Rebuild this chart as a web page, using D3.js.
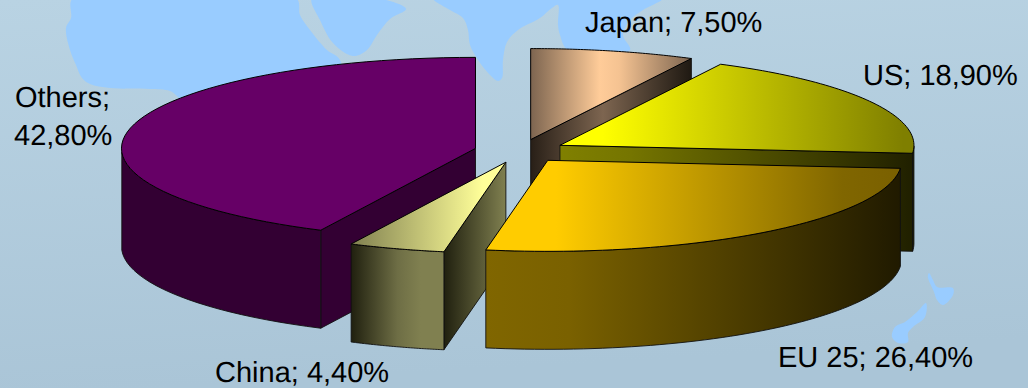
<!DOCTYPE html>
<html>
<head>
<meta charset="utf-8">
<style>
  html, body { margin: 0; padding: 0; background: #b0cbdc; }
  svg { display: block; }
  text { font-family: "Liberation Sans", Arial, sans-serif; font-size: 29px; fill: #000; text-rendering: geometricPrecision; }
</style>
<script src="https://cdn.jsdelivr.net/npm/d3@7"></script>
</head>
<body>
<svg id="chart" width="1028" height="388"></svg>
<script>
// Market shares, clockwise from twelve o'clock
const regions = ["Japan", "US", "EU 25", "China", "Others"];
const shares = [7.5, 18.9, 26.4, 4.4, 42.8];

// Tilted-disc geometry
const width = 1028, height = 388;
const centerX = 520, centerY = 151, radiusX = 354, radiusY = 91, depth = 98, explode = 0.129;
const paintOrder = ["Japan", "US", "Others", "China", "EU 25"];

// Gradient ramps along x for each slice: top, curved rim and cut face
const ramps = {
  "Japan": {
    top: [[0, "#7d6550"], [0.43, "#ffcc99"], [0.55, "#f5c392"], [1, "#7d6550"]],
    rim: [[0, "#2a2118"], [1, "#2a2118"]],
    face: [[0, "#281f17"], [0.45, "#7d6550"], [1, "#1f1912"]]
  },
  "US": {
    top: [[0, "#ffff00"], [0.12, "#ffff00"], [0.97, "#7f7f00"], [1, "#7f7f00"]],
    rim: [[0, "#202000"], [1, "#202000"]],
    face: [[0, "#808000"], [0.2, "#757500"], [1, "#202000"]]
  },
  "EU 25": {
    top: [[0, "#ffcc00"], [0.17, "#ffcc00"], [0.86, "#806600"], [1, "#7a6000"]],
    rim: [[0, "#806600"], [0.2, "#7a6100"], [1, "#201a00"]],
    face: [[0, "#806600"], [1, "#806600"]]
  },
  "China": {
    top: [[0, "#808050"], [0.85, "#ffff99"], [1, "#ffff99"]],
    rim: [[0, "#20200f"], [0.5, "#6e6e45"], [0.75, "#808050"], [1, "#808050"]],
    face: [[0, "#20200f"], [1, "#808050"]]
  },
  "Others": {
    top: [[0, "#660066"], [1, "#660066"]],
    rim: [[0, "#330033"], [1, "#330033"]],
    face: [[0, "#330033"], [1, "#330033"]]
  }
};

// Label placement, one entry per region
const labelAnchors = {
  "Japan": [[585, 32]],
  "US": [[863, 85]],
  "EU 25": [[778, 367]],
  "China": [[215, 382]],
  "Others": [[15, 107], [14, 145]]
};

const svg = d3.select("#chart");
const defs = svg.append("defs");

// Page backdrop
const bgGrad = defs.append("linearGradient").attr("id", "backdrop")
  .attr("x1", 0).attr("y1", 0).attr("x2", 0.15).attr("y2", 1);
bgGrad.append("stop").attr("offset", 0).attr("stop-color", "#b9d3e3");
bgGrad.append("stop").attr("offset", 1).attr("stop-color", "#aac5d7");
svg.append("rect").attr("width", width).attr("height", height).attr("fill", "url(#backdrop)");

// Land masses behind the pie
const land = [
  [[73,-2],[71,18],[66,28],[70,50],[76,65],[82,78],[90,84],[110,88],[150,89],[170,91],[184,100],[340,100],[340,60],[327,50],[310,30],[300,15],[296,-2]],
  [[312,-2],[320,20],[333,43],[353,56],[367,50],[377,35],[390,19],[406,9],[377,-2]],
  [[433,-2],[450,10],[463,18],[468,30],[470,45],[478,60],[490,75],[498,81],[502,78],[503,60],[507,42],[518,30],[540,18],[552,8],[558,5],[558,25],[560,35],[568,50],[630,50],[623,35],[630,20],[643,10],[663,-2]],
  [[928,275],[929,273],[933,280],[937,287],[953,288],[953,295],[943,305],[937,300],[934,292],[928,278]],
  [[926,303],[925,317],[913,327],[908,333],[908,342],[898,343],[892,337],[895,327],[905,322],[917,312]]
];
const landLine = d3.line().curve(d3.curveCatmullRomClosed.alpha(0.5));
svg.append("g").selectAll("path").data(land).join("path")
  .attr("d", landLine).attr("fill", "#99ccff");

// Scales from the unit disc to the page
const x = d3.scaleLinear().domain([-1, 1]).range([centerX - radiusX, centerX + radiusX]);
const y = d3.scaleLinear().domain([-1, 1]).range([centerY + radiusY, centerY - radiusY]);

const pie = d3.pie().sort(null).value(d => d.share);
const arcs = pie(regions.map((name, i) => ({ name, share: shares[i] })));

const polygon = pts => d3.line()(pts) + "Z";

function addRamp(id, stops, x0, x1) {
  const g = defs.append("linearGradient").attr("id", id)
    .attr("gradientUnits", "userSpaceOnUse")
    .attr("x1", x0).attr("y1", 0).attr("x2", x1).attr("y2", 0);
  stops.forEach(([o, c]) => g.append("stop").attr("offset", o).attr("stop-color", c));
  return `url(#${id})`;
}

const byName = new Map(arcs.map(a => [a.data.name, a]));
const pieGroup = svg.append("g").attr("stroke-linejoin", "round");

paintOrder.forEach((name, idx) => {
  const a = byName.get(name);
  const mid = (a.startAngle + a.endAngle) / 2;
  const ox = explode * Math.sin(mid), oy = explode * Math.cos(mid);
  const pt = t => [x(ox + Math.sin(t)), y(oy + Math.cos(t))];
  const apex = [x(ox), y(oy)];
  const steps = d3.range(0, 61).map(i => a.startAngle + (a.endAngle - a.startAngle) * i / 60);
  const drop = ([px, py]) => [px, py + depth];
  const ramp = ramps[name];
  const g = pieGroup.append("g");

  // Cut faces that turn towards the viewer
  const face = (t, key) => {
    const p = pt(t);
    const x0 = Math.min(apex[0], p[0]), x1 = Math.max(apex[0], p[0]);
    g.append("path")
      .attr("d", polygon([apex, p, drop(p), drop(apex)]))
      .attr("fill", addRamp(`face-${idx}-${key}`, ramp.face, x0, x1))
      .attr("stroke", "#111").attr("stroke-width", 0.9);
  };
  if (Math.sin(a.startAngle) < -1e-6) face(a.startAngle, "s");
  if (Math.sin(a.endAngle) > 1e-6) face(a.endAngle, "e");

  // Outer rim where the arc runs along the near half of the ellipse
  const near = steps.filter(t => Math.cos(t) <= 0);
  if (near.length > 1) {
    const top = near.map(pt);
    const xs = top.map(p => p[0]);
    g.append("path")
      .attr("d", polygon(top.concat(top.map(drop).reverse())))
      .attr("fill", addRamp(`rim-${idx}`, ramp.rim, d3.min(xs), d3.max(xs)))
      .attr("stroke", "#111").attr("stroke-width", 0.9);
  }

  // Top surface
  const outline = [apex, ...steps.map(pt)];
  const xs = outline.map(p => p[0]);
  g.append("path")
    .attr("d", polygon(outline))
    .attr("fill", addRamp(`top-${idx}`, ramp.top, d3.min(xs), d3.max(xs)))
    .attr("stroke", "#000").attr("stroke-width", 1);
});

// Labels: name and share with a decimal comma
const fmt = d3.formatLocale({ decimal: ",", thousands: ".", grouping: [3], currency: ["", "%"] }).format(".2f");
const labels = svg.append("g");
regions.forEach((name, i) => {
  const value = fmt(shares[i]) + "%";
  const pos = labelAnchors[name];
  const lines = pos.length > 1 ? [name + ";", value] : [`${name}; ${value}`];
  lines.forEach((s, j) => labels.append("text").attr("x", pos[j][0]).attr("y", pos[j][1]).text(s));
});
</script>
</body>
</html>
